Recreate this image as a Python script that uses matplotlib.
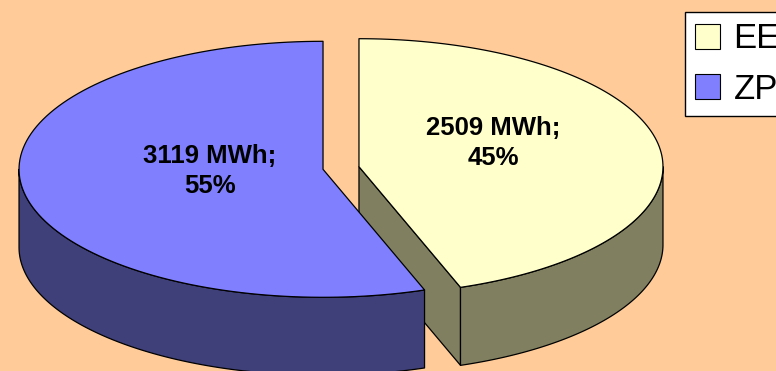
#!/usr/bin/env python3
"""3D-style exploded pie: energy consumption split EE / ZP."""

import numpy as np
import matplotlib
matplotlib.use("Agg")
import matplotlib.pyplot as plt
from matplotlib.patches import Polygon, Patch

# Data
categories = ["EE", "ZP"]
values_mwh = [2509, 3119]
label_pos = [(493, 143), (210, 171)]   # text anchors in pixels

top_colors = ["#FFFFCC", "#8080FF"]
side_colors = ["#808060", "#3F3F7A"]
bg_color = "#FFCC99"

# Pie geometry (pixels, y grows downward)
CX, CY = 341, 168
RX, RY = 304, 128
DEPTH = 78
EXPLODE = 0.06

W, H = 776, 371
fig = plt.figure(figsize=(W / 100, H / 100), dpi=100)
fig.patch.set_facecolor(bg_color)
ax = fig.add_axes([0, 0, 1, 1])
ax.set_xlim(0, W)
ax.set_ylim(H, 0)
ax.axis("off")


def arc(cx, cy, t0, t1, n=120):
    # angle measured from 12 o'clock, clockwise, in degrees
    t = np.radians(np.linspace(t0, t1, n))
    return np.column_stack([cx + RX * np.sin(t), cy - RY * np.cos(t)])


total = sum(values_mwh)
fracs = [v / total for v in values_mwh]
bounds = np.concatenate([[0], np.cumsum(fracs) * 360])

slices = []
for i, f in enumerate(fracs):
    t0, t1 = bounds[i], bounds[i + 1]
    mid = np.radians((t0 + t1) / 2)
    cx = CX + EXPLODE * RX * np.sin(mid)
    cy = CY - EXPLODE * RY * np.cos(mid)
    slices.append((cx, cy, t0, t1))

edge = dict(edgecolor="black", linewidth=0.9, joinstyle="round")
down = np.array([0, DEPTH])

# radial cut faces
for i, (cx, cy, t0, t1) in enumerate(slices):
    for t, sign in ((t0, -1), (t1, 1)):
        if sign * np.sin(np.radians(t)) > 1e-6:
            p = arc(cx, cy, t, t, 1)[0]
            c = np.array([cx, cy])
            face = np.array([c, p, p + down, c + down])
            ax.add_patch(Polygon(face, facecolor=side_colors[i], zorder=1, **edge))

# outer walls (front half only)
for i, (cx, cy, t0, t1) in enumerate(slices):
    a, b = max(t0, 90), min(t1, 270)
    if b > a:
        top = arc(cx, cy, a, b)
        wall = np.vstack([top, (top + down)[::-1]])
        ax.add_patch(Polygon(wall, facecolor=side_colors[i], zorder=2, **edge))

# top faces
for i, (cx, cy, t0, t1) in enumerate(slices):
    top = np.vstack([[cx, cy], arc(cx, cy, t0, t1)])
    ax.add_patch(Polygon(top, facecolor=top_colors[i], zorder=3, **edge))

# value labels
for i, (x, y) in enumerate(label_pos):
    pct = round(fracs[i] * 100)
    ax.text(x, y, f"{values_mwh[i]} MWh;\n{pct}%", ha="center", va="center",
            fontsize=18.5, fontweight="bold", family="Liberation Sans",
            linespacing=1.3, zorder=5)

handles = [Patch(facecolor=c, edgecolor="black", linewidth=0.8) for c in top_colors]
leg = ax.legend(handles, categories, loc="upper left",
                bbox_to_anchor=(685 / W, 1 - 12 / H), bbox_transform=fig.transFigure,
                prop={"family": "Liberation Sans", "size": 25},
                frameon=True, fancybox=False, framealpha=1, edgecolor="black",
                borderpad=0.3, borderaxespad=0, handlelength=0.72, handleheight=0.72,
                handletextpad=0.38, labelspacing=0.5)
leg.get_frame().set_linewidth(1.0)

fig.savefig("out.png", dpi=100, facecolor=bg_color)
